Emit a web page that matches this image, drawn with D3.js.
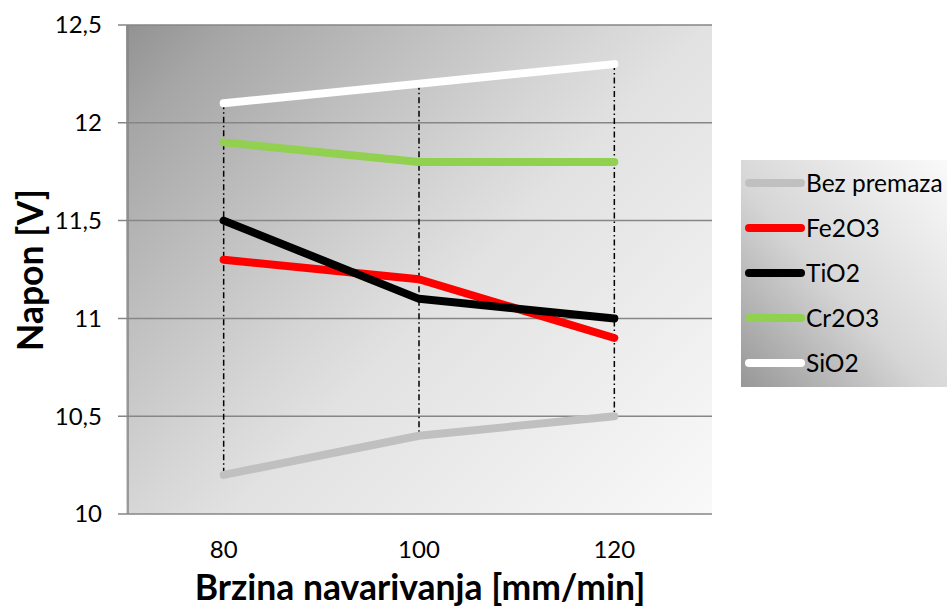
<!DOCTYPE html>
<html><head><meta charset="utf-8">
<script src="https://cdn.jsdelivr.net/npm/d3@7"></script>
<style>body{margin:0;background:#fff;} svg{display:block;font-family:Lato,"Open Sans",sans-serif;}</style>
</head><body>
<svg id="c" width="947" height="614"></svg>
<script>
const categories = ["80", "100", "120"];
const seriesNames = ["Bez premaza", "Fe2O3", "TiO2", "Cr2O3", "SiO2"];
const bezPremaza = [10.2, 10.4, 10.5];
const fe2o3 = [11.3, 11.2, 10.9];
const tio2 = [11.5, 11.1, 11.0];
const cr2o3 = [11.9, 11.8, 11.8];
const sio2 = [12.1, 12.2, 12.3];
const yTicks = [10, 10.5, 11, 11.5, 12, 12.5];
const colors = ["#c0c0c0", "#ff0000", "#000000", "#92d050", "#ffffff"];
const seriesValues = [bezPremaza, fe2o3, tio2, cr2o3, sio2];

const svg = d3.select("#c");
const L = 126, R = 712, T = 25, B = 514;
const x = d3.scaleBand().domain(categories).range([L, R]);
const y = d3.scaleLinear().domain([10, 12.5]).range([B, T]);

const defs = svg.append("defs");
const g1 = defs.append("linearGradient").attr("id", "bg")
  .attr("x1", "0").attr("y1", "0").attr("x2", "1.089").attr("y2", "0.891");
[[0, "#929292"], [0.1, "#a6a6a6"], [0.3, "#c2c2c2"], [0.45, "#d6d6d6"], [0.55, "#e2e2e2"], [1, "#f9f9f9"]]
  .forEach(s => g1.append("stop").attr("offset", s[0]).attr("stop-color", s[1]));
const g2 = defs.append("linearGradient").attr("id", "lg").attr("x1", "0").attr("y1", "1").attr("x2", "1").attr("y2", "0");
g2.append("stop").attr("offset", "0").attr("stop-color", "#979797");
g2.append("stop").attr("offset", "0.45").attr("stop-color", "#d6d6d6");
g2.append("stop").attr("offset", "1").attr("stop-color", "#fafafa");

svg.append("rect").attr("x", L).attr("y", T).attr("width", R - L).attr("height", B - T).attr("fill", "url(#bg)");

// gridlines
svg.append("g").selectAll("line").data(yTicks).join("line")
  .attr("x1", L - 8).attr("x2", R).attr("y1", d => y(d)).attr("y2", d => y(d))
  .attr("stroke", "#868686").attr("stroke-width", 1.5);
// y axis line
svg.append("line").attr("x1", L + 2).attr("x2", L + 2).attr("y1", T).attr("y2", B).attr("stroke", "#868686").attr("stroke-width", 1.5);

// y tick labels
svg.append("g").selectAll("text").data(yTicks).join("text")
  .attr("x", 102).attr("y", d => y(d)).attr("dy", "0.35em").attr("text-anchor", "end")
  .attr("font-size", 24).attr("fill", "#000")
  .text(d => String(d).replace(".", ","));
// x tick labels
svg.append("g").selectAll("text").data(categories).join("text")
  .attr("x", d => x(d) + x.bandwidth() / 2).attr("y", 558).attr("text-anchor", "middle")
  .attr("font-size", 24).attr("fill", "#000").text(d => d);

// drop lines
svg.append("g").selectAll("line").data(categories).join("line")
  .attr("x1", d => x(d) + x.bandwidth() / 2).attr("x2", d => x(d) + x.bandwidth() / 2)
  .attr("y1", (d, i) => y(d3.max(seriesValues, s => s[i])))
  .attr("y2", (d, i) => y(d3.min(seriesValues, s => s[i])))
  .attr("stroke", "#000").attr("stroke-width", 1.5).attr("stroke-dasharray", "6,3,1.5,3");

// lines
const line = d3.line().x((d, i) => x(categories[i]) + x.bandwidth() / 2).y(d => y(d));
svg.append("g").selectAll("path").data(seriesValues).join("path")
  .attr("d", d => line(d)).attr("fill", "none")
  .attr("stroke", (d, i) => colors[i]).attr("stroke-width", 8)
  .attr("stroke-linecap", "round").attr("stroke-linejoin", "round");

// axis titles
svg.append("text").attr("x", 420).attr("y", 600).attr("text-anchor", "middle")
  .attr("font-size", 35.5).attr("font-weight", "bold").text("Brzina navarivanja [mm/min]");
svg.append("text").attr("transform", "translate(43,270) rotate(-90)").attr("text-anchor", "middle")
  .attr("font-size", 35.5).attr("font-weight", "bold").text("Napon [V]");

// legend
svg.append("rect").attr("x", 741).attr("y", 160).attr("width", 206).attr("height", 227).attr("fill", "url(#lg)");
const lgItems = svg.append("g").selectAll("g").data(seriesNames).join("g")
  .attr("transform", (d, i) => `translate(0,${183 + i * 45})`);
lgItems.append("line").attr("x1", 749).attr("x2", 801).attr("y1", 0).attr("y2", 0)
  .attr("stroke", (d, i) => colors[i]).attr("stroke-width", 8).attr("stroke-linecap", "round");
lgItems.append("text").attr("x", 806).attr("y", 0).attr("dy", "0.35em").attr("font-size", 24.5)
  .attr("fill", "#000").text(d => d);
</script>
</body></html>
